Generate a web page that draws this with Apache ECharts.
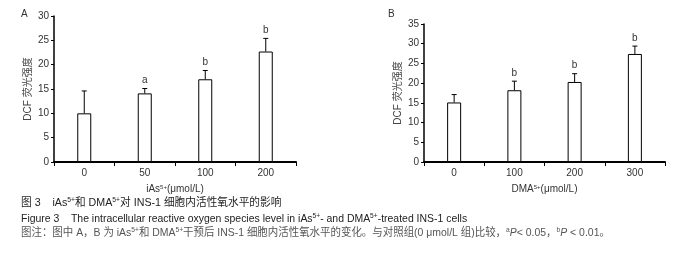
<!DOCTYPE html>
<html><head><meta charset="utf-8">
<script src="https://cdn.jsdelivr.net/npm/echarts@6/dist/echarts.min.js"></script>
<style>html,body{margin:0;padding:0;background:#fff}#c{width:699px;height:258px}</style>
</head><body><div id="c"></div>
<script>
// Panel A
const catsA = ['0', '50', '100', '200'];
const meanA = [10.0, 14.1, 17.0, 22.7];
const upperA = [14.6, 15.1, 18.8, 25.4];
const sigA = ['', 'a', 'b', 'b'];
const ticksA = { min: 0, max: 30, interval: 5 };
// Panel B
const catsB = ['0', '100', '200', '300'];
const meanB = [15.1, 18.2, 20.3, 27.4];
const upperB = [17.1, 20.5, 22.4, 29.4];
const sigB = ['', 'b', 'b', 'b'];
const ticksB = { min: 0, max: 35, interval: 5 };

const FONT = 'Liberation Sans, Arial, Noto Sans CJK SC, sans-serif';
const TXT = '#333';
const chart = echarts.init(document.getElementById('c'), null, { renderer: 'canvas' });

function yAxis(idx, t) {
  return {
    type: 'value', gridIndex: idx, min: t.min, max: t.max, interval: t.interval,
    name: 'DCF 荧光强度', nameLocation: 'middle', nameGap: 21,
    nameTextStyle: { fontSize: 10, color: '#444', fontFamily: FONT },
    axisLine: { show: true, lineStyle: { color: '#000', width: 1.5 } },
    axisTick: { show: true, length: 3, lineStyle: { color: '#000', width: 1 } },
    axisLabel: { fontSize: 10, color: TXT, fontFamily: FONT, margin: 5 },
    splitLine: { show: false }
  };
}
function xAxis(idx, cats, nm) {
  return {
    type: 'category', gridIndex: idx, data: cats, boundaryGap: true,
    name: nm, nameLocation: 'middle', nameGap: 22,
    nameTextStyle: { fontSize: 10, color: TXT, fontFamily: FONT,
      rich: { s: { fontSize: 6, verticalAlign: 'top', padding: [0,0,5,0], color: TXT } } },
    axisLine: { show: true, lineStyle: { color: '#000', width: 2 } },
    axisTick: { show: true, length: 4, alignWithLabel: false, lineStyle: { color: '#000', width: 1 } },
    axisLabel: { fontSize: 10, color: TXT, fontFamily: FONT, margin: 6 },
    splitLine: { show: false }
  };
}
function errSeries(idx, means, uppers, sigs) {
  return {
    type: 'custom', xAxisIndex: idx, yAxisIndex: idx,
    data: means.map((m, i) => [i, m, uppers[i]]),
    renderItem: function (params, api) {
      const i = api.value(0);
      const p0 = api.coord([i, api.value(1)]);
      const p1 = api.coord([i, api.value(2)]);
      const cap = 2.5;
      const st = { stroke: '#000', lineWidth: 1 };
      return {
        type: 'group',
        children: [
          { type: 'line', shape: { x1: p0[0], y1: p0[1], x2: p1[0], y2: p1[1] }, style: st },
          { type: 'line', shape: { x1: p1[0] - cap, y1: p1[1], x2: p1[0] + cap, y2: p1[1] }, style: st },
          { type: 'text', style: { text: sigs[i], x: p1[0], y: p1[1] - 3, align: 'center', verticalAlign: 'bottom',
              fontSize: 10, fill: TXT, fontFamily: FONT } }
        ]
      };
    },
    z: 3
  };
}
function barSeries(idx, means) {
  return {
    type: 'bar', xAxisIndex: idx, yAxisIndex: idx, data: means, barWidth: 14,
    itemStyle: { color: '#fff', borderColor: '#000', borderWidth: 1 },
    z: 2
  };
}

function capText(left, top, richText, color, sx) {
  return {
    type: 'text', left: left, top: top, scaleX: sx, scaleY: 1, originX: 0,
    style: {
      text: richText, fill: color, fontSize: 11, fontFamily: FONT,
      rich: {
        s: { fontSize: 7, verticalAlign: 'top', lineHeight: 8, fill: color, fontFamily: FONT },
        i: { fontSize: 11, fontStyle: 'italic', fill: color, fontFamily: FONT }
      }
    }
  };
}

chart.setOption({
  animation: false,
  backgroundColor: '#fff',
  grid: [
    { left: 54, top: 16, width: 242, height: 146 },
    { left: 424, top: 24, width: 241, height: 138 }
  ],
  xAxis: [xAxis(0, catsA, 'iAs{s|5+}(μmol/L)'), xAxis(1, catsB, 'DMA{s|5+}(μmol/L)')],
  yAxis: [yAxis(0, ticksA), yAxis(1, ticksB)],
  series: [
    barSeries(0, meanA), errSeries(0, meanA, upperA, sigA),
    barSeries(1, meanB), errSeries(1, meanB, upperB, sigB)
  ],
  graphic: [
    { type: 'text', left: 21, top: 9, style: { text: 'A', fontSize: 10, fill: TXT, fontFamily: FONT } },
    { type: 'text', left: 388, top: 9, style: { text: 'B', fontSize: 10, fill: TXT, fontFamily: FONT } },
    capText(21, 197, '图 3    iAs{s|5+}和 DMA{s|5+}对 INS-1 细胞内活性氧水平的影响', '#222', 0.97),
    capText(21, 213, 'Figure 3    The intracellular reactive oxygen species level in iAs{s|5+}- and DMA{s|5+}-treated INS-1 cells', '#222', 0.95),
    capText(21, 227, '图注：图中 A，B 为 iAs{s|5+}和 DMA{s|5+}干预后 INS-1 细胞内活性氧水平的变化。与对照组(0 μmol/L 组)比较，{s|a}{i|P}< 0.05，{s|b}{i|P} < 0.01。', '#555', 0.95)
  ]
});
</script></body></html>
